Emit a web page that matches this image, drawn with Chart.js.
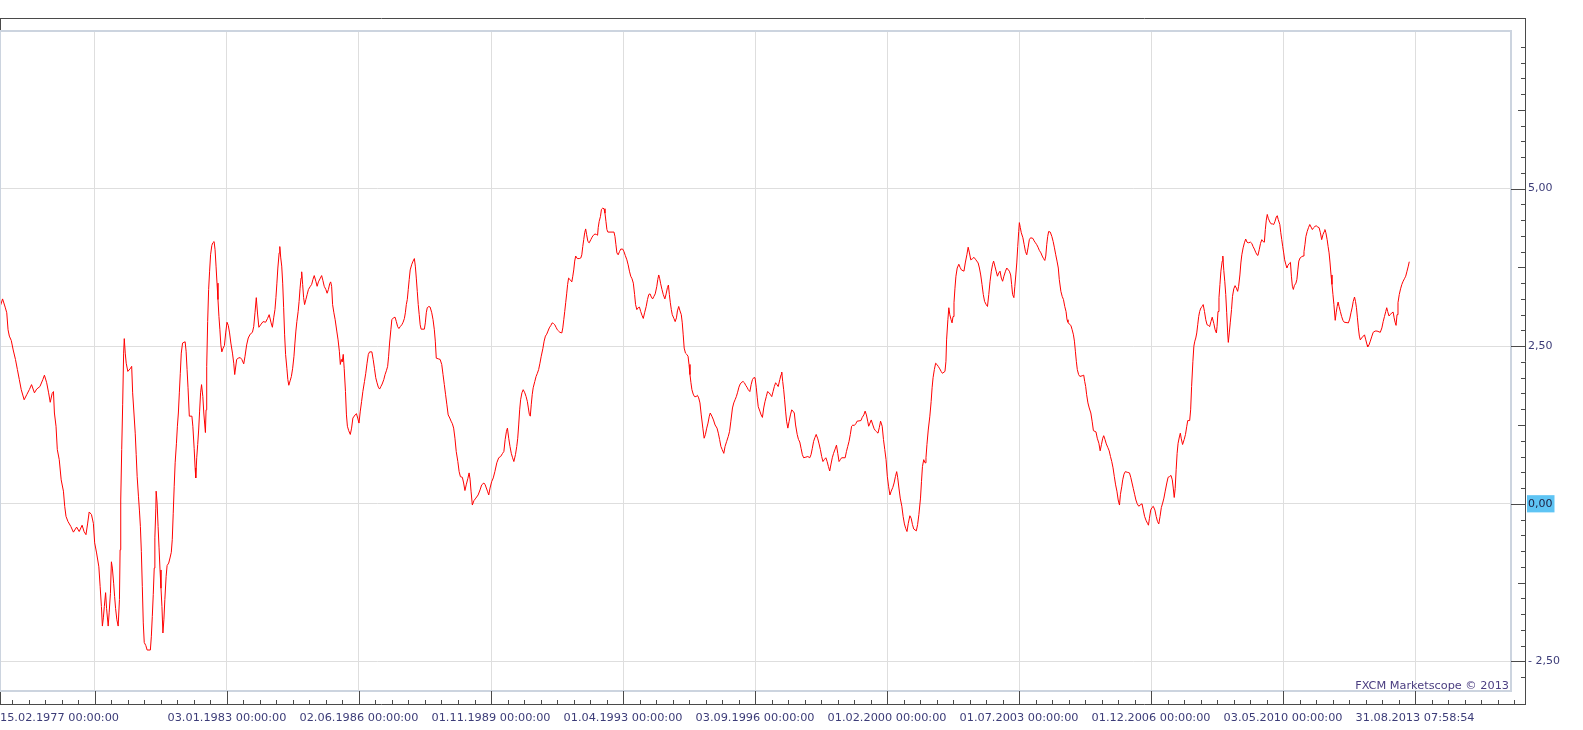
<!DOCTYPE html>
<html>
<head>
<meta charset="utf-8">
<script src="https://cdn.jsdelivr.net/npm/chart.js@4.4.1/dist/chart.umd.min.js"></script>
<style>
  html, body { margin: 0; padding: 0; background: #fff; }
</style>
</head>
<body>
<canvas id="chart" width="1583" height="730"></canvas>
<script>
// x = months since 15.02.1977, y = value
const seriesPoints = [
  [0.0,3.12],[0.8,3.25],[1.6,3.12],[2.1,3.03],[2.5,2.76],[2.9,2.66],[3.5,2.59],[4.1,2.44],[4.8,2.29],[5.4,2.13],[6.0,1.97],[6.6,1.81],[7.5,1.65],[8.3,1.73],[9.1,1.81],[9.8,1.89],[10.7,1.76],[11.4,1.82],[12.4,1.86],[13.3,1.97],[13.8,2.04],[14.5,1.92],[15.1,1.76],[15.6,1.61],[16.2,1.75],[16.6,1.78],[16.9,1.44],[17.4,1.23],[17.8,0.86],[18.4,0.70],[19.0,0.38],[19.7,0.20],[20.1,-0.04],[20.5,-0.20],[21.1,-0.28],[22.0,-0.36],[22.8,-0.45],[23.8,-0.37],[24.6,-0.44],[25.5,-0.34],[26.1,-0.44],[26.7,-0.49],[27.2,-0.32],[27.7,-0.13],[28.4,-0.17],[29.0,-0.31],[29.4,-0.62],[30.0,-0.78],[30.7,-1.00],[31.1,-1.31],[31.5,-1.63],[31.8,-1.94],[32.1,-1.81],[32.4,-1.63],[32.8,-1.41],[33.1,-1.66],[33.6,-1.94],[33.9,-1.73],[34.3,-1.42],[34.6,-0.92],[34.9,-1.02],[35.3,-1.26],[35.6,-1.47],[35.9,-1.66],[36.3,-1.84],[36.7,-1.94],[37.1,-1.52],[37.3,-0.73],[37.5,0.06],[37.8,0.86],[38.1,1.57],[38.4,2.39],[38.6,2.62],[38.9,2.39],[39.2,2.23],[39.7,2.10],[40.4,2.14],[40.9,2.18],[41.2,1.76],[41.6,1.44],[42.0,1.12],[42.3,0.78],[42.6,0.43],[43.0,0.12],[43.3,-0.10],[43.6,-0.36],[43.9,-0.76],[44.2,-1.31],[44.5,-1.89],[44.8,-2.20],[45.3,-2.25],[45.7,-2.32],[46.7,-2.32],[47.0,-2.11],[47.3,-1.79],[47.6,-1.44],[47.9,-1.02],[48.1,-0.54],[48.4,-0.07],[48.5,0.20],[48.8,0.01],[49.1,-0.36],[49.4,-0.70],[49.7,-1.05],[50.0,-1.34],[50.3,-1.63],[50.6,-2.05],[50.9,-1.84],[51.2,-1.52],[51.6,-1.15],[51.9,-0.98],[52.4,-0.94],[52.8,-0.86],[53.2,-0.77],[53.5,-0.57],[53.8,-0.15],[54.1,0.27],[54.4,0.65],[54.8,0.96],[55.1,1.23],[55.4,1.44],[55.7,1.76],[56.0,2.07],[56.3,2.39],[56.7,2.55],[57.5,2.57],[57.8,2.42],[58.1,2.13],[58.4,1.84],[58.8,1.39],[59.6,1.39],[59.9,1.23],[60.3,0.88],[60.6,0.57],[60.8,0.41],[61.1,0.73],[61.4,0.94],[61.7,1.17],[62.0,1.47],[62.3,1.76],[62.6,1.89],[63.0,1.70],[63.3,1.44],[63.6,1.25],[63.8,1.13],[64.0,1.49],[64.2,2.18],[64.5,2.89],[64.8,3.40],[65.1,3.69],[65.4,3.95],[65.8,4.10],[66.1,4.14],[66.5,4.16],[66.8,4.03],[67.1,3.77],[67.4,3.50],[67.7,3.24],[68.0,2.97],[68.3,2.76],[68.6,2.52],[68.9,2.41],[69.3,2.47],[69.7,2.51],[70.1,2.71],[70.5,2.88],[70.9,2.83],[71.3,2.71],[71.7,2.55],[72.2,2.39],[72.6,2.23],[72.9,2.05],[73.5,2.29],
  [74.0,2.31],[74.6,2.32],[75.1,2.29],[75.7,2.22],[76.1,2.34],[76.6,2.52],[77.1,2.63],[77.7,2.69],[78.4,2.72],[78.8,2.81],[79.2,3.03],[79.6,3.27],[80.0,3.01],[80.4,2.80],[81.1,2.85],[81.7,2.89],[82.5,2.88],[83.1,2.94],[83.6,3.00],[84.2,2.87],[84.6,2.80],[85.0,2.95],[85.4,3.08],[85.7,3.27],[86.0,3.50],[86.3,3.74],[86.7,3.98],[86.9,4.08],[87.2,3.90],[87.5,3.77],[87.8,3.50],[88.1,3.11],[88.4,2.68],[88.7,2.37],[89.1,2.15],[89.4,1.97],[89.7,1.88],[90.1,1.95],[90.5,2.02],[90.9,2.15],[91.3,2.34],[91.6,2.55],[91.9,2.74],[92.2,2.89],[92.6,3.05],[92.9,3.21],[93.2,3.42],[93.5,3.58],[93.7,3.68],[94.0,3.48],[94.3,3.27],[94.6,3.16],[95.0,3.24],[95.4,3.32],[95.8,3.40],[96.4,3.45],[96.8,3.48],[97.2,3.56],[97.6,3.62],[98.1,3.53],[98.5,3.45],[98.9,3.52],[99.5,3.58],[99.9,3.62],[100.3,3.54],[100.7,3.45],[101.2,3.40],[101.6,3.34],[102.0,3.40],[102.4,3.49],[102.7,3.52],[103.0,3.45],[103.3,3.16],[103.7,3.03],[104.1,2.92],[104.6,2.74],[105.0,2.60],[105.4,2.42],[105.7,2.21],[106.0,2.29],[106.3,2.25],[106.6,2.37],[106.9,2.15],[107.3,1.78],[107.6,1.41],[107.9,1.23],[108.3,1.16],[108.8,1.10],[109.2,1.20],[109.6,1.36],[110.3,1.41],[110.7,1.43],[111.1,1.36],[111.5,1.28],[111.9,1.47],[112.3,1.62],[112.7,1.78],[113.2,1.94],[113.6,2.07],[114.0,2.23],[114.4,2.37],[114.8,2.41],[115.5,2.41],[115.9,2.29],[116.3,2.15],[116.7,2.00],[117.1,1.92],[117.5,1.85],[117.9,1.82],[118.3,1.86],[118.7,1.90],[119.2,1.97],[119.6,2.05],[120.0,2.11],[120.4,2.18],[120.7,2.34],[121.0,2.55],[121.4,2.76],[121.7,2.92],[122.2,2.95],[122.7,2.96],[123.1,2.89],[123.5,2.81],[123.9,2.78],[124.3,2.81],[124.8,2.84],[125.2,2.88],[125.6,2.94],[125.9,3.03],[126.2,3.16],[126.5,3.24],[126.8,3.40],[127.1,3.56],[127.4,3.71],[127.9,3.80],[128.3,3.85],[128.7,3.89],[129.0,3.77],[129.3,3.58],[129.6,3.37],[129.9,3.16],[130.2,3.00],[130.5,2.84],[130.8,2.77],[131.8,2.77],[132.1,2.87],[132.4,3.03],[132.7,3.11],[133.2,3.13],[133.6,3.12],[134.1,3.03],[134.5,2.92],[134.9,2.76],[135.2,2.58],[135.5,2.31],[136.1,2.30],[136.7,2.29],[137.2,2.21],[137.6,2.05],[138.0,1.89],[138.4,1.73],[138.8,1.57],[139.2,1.41],[139.7,1.36],[140.1,1.31],[140.5,1.27],[140.9,1.20],[141.3,1.04],[141.7,0.83],[142.2,0.67],[142.6,0.51],[143.0,0.43],[143.6,0.42],[144.0,0.33],[144.4,0.21],[144.8,0.30],[145.3,0.40],[145.7,0.49],[146.0,0.39],[146.3,0.20],[146.7,-0.02],
  [147.2,0.05],[147.8,0.09],[148.5,0.14],[149.1,0.22],[149.6,0.30],[150.3,0.33],[150.7,0.30],[151.4,0.20],[151.8,0.14],[152.2,0.25],[152.7,0.35],[153.2,0.41],[153.7,0.51],[154.3,0.65],[154.9,0.73],[155.5,0.75],[156.1,0.80],[156.5,0.83],[156.9,1.02],[157.3,1.15],[157.6,1.20],[158.0,1.04],[158.4,0.91],[158.8,0.80],[159.2,0.73],[159.6,0.67],[160.1,0.78],[160.5,0.91],[160.8,1.04],[161.1,1.25],[161.4,1.49],[161.7,1.65],[162.1,1.76],[162.5,1.81],[163.0,1.76],[163.4,1.70],[163.8,1.62],[164.1,1.52],[164.4,1.42],[164.7,1.39],[165.0,1.57],[165.3,1.73],[165.6,1.84],[166.1,1.94],[166.5,2.02],[166.9,2.07],[167.3,2.13],[167.7,2.23],[168.1,2.34],[168.6,2.46],[169.0,2.58],[169.4,2.66],[169.8,2.69],[170.2,2.74],[170.6,2.79],[171.1,2.83],[171.5,2.87],[171.9,2.86],[172.3,2.84],[172.7,2.80],[173.1,2.76],[173.5,2.74],[173.9,2.72],[174.5,2.71],[174.8,2.79],[175.1,2.92],[175.4,3.05],[175.7,3.19],[176.0,3.33],[176.3,3.48],[176.6,3.58],[177.0,3.56],[177.6,3.52],[177.9,3.61],[178.2,3.71],[178.5,3.85],[178.8,3.93],[179.3,3.89],[179.9,3.89],[180.4,3.90],[180.7,3.95],[181.0,4.08],[181.3,4.19],[181.6,4.30],[181.9,4.36],[182.2,4.27],[182.6,4.16],[183.0,4.14],[183.5,4.19],[183.9,4.23],[184.3,4.26],[184.8,4.28],[185.3,4.27],[185.6,4.26],[185.8,4.38],[186.1,4.48],[186.5,4.56],[186.8,4.67],[187.2,4.69],[187.6,4.68],[187.9,4.61],[188.2,4.48],[188.5,4.35],[188.8,4.31],[190.7,4.31],[191.0,4.24],[191.3,4.11],[191.6,3.98],[192.0,3.95],[192.4,4.00],[192.8,4.04],[193.4,4.04],[193.8,4.00],[194.2,3.94],[194.7,3.87],[195.1,3.79],[195.5,3.69],[195.9,3.61],[196.3,3.57],[196.7,3.50],[197.1,3.32],[197.4,3.16],[197.8,3.08],[198.2,3.11],[198.6,3.12],[199.0,3.05],[199.4,2.99],[199.8,2.94],[200.2,3.03],[200.7,3.13],[201.1,3.24],[201.5,3.32],[201.9,3.33],[202.3,3.28],[202.7,3.25],[203.1,3.29],[203.5,3.33],[204.0,3.45],[204.3,3.56],[204.6,3.63],[204.9,3.57],[205.2,3.49],[205.6,3.40],[206.0,3.32],[206.5,3.25],[206.9,3.33],[207.3,3.43],[207.6,3.47],[207.9,3.32],[208.2,3.19],[208.5,3.08],[208.8,3.00],[209.3,2.94],[209.7,2.89],[210.1,2.95],[210.4,3.06],[210.8,3.13],[211.2,3.06],[211.6,3.00],[211.9,2.87],[212.2,2.68],[212.5,2.47],[212.9,2.39],[213.3,2.37],[213.7,2.34],[214.0,2.21],[214.3,2.05],[214.6,1.92],[214.9,1.81],[215.3,1.74],[215.7,1.70],[216.2,1.70],[216.6,1.72],[217.0,1.68],[217.4,1.60],[217.8,1.41],[218.3,1.20],[218.7,1.04],
  [219.1,1.10],[219.5,1.20],[219.9,1.28],[220.3,1.39],[220.6,1.44],[221.1,1.39],[221.6,1.33],[222.1,1.25],[222.7,1.20],[223.1,1.12],[223.5,1.02],[223.9,0.91],[224.3,0.86],[224.8,0.80],[225.2,0.91],[225.7,0.99],[226.2,1.07],[226.6,1.15],[227.0,1.31],[227.5,1.52],[227.9,1.60],[228.3,1.65],[228.7,1.70],[229.1,1.77],[229.5,1.85],[229.9,1.90],[230.4,1.93],[230.8,1.94],[231.2,1.92],[231.6,1.88],[232.0,1.85],[232.4,1.81],[232.9,1.78],[233.3,1.89],[233.7,1.97],[234.1,2.00],[234.5,2.00],[234.9,1.84],[235.2,1.68],[235.5,1.54],[236.0,1.47],[236.4,1.41],[236.8,1.37],[237.2,1.52],[237.6,1.62],[238.0,1.70],[238.4,1.78],[238.9,1.76],[239.3,1.73],[239.7,1.70],[240.1,1.78],[240.5,1.86],[240.9,1.92],[241.3,1.89],[241.7,1.86],[242.2,1.97],[242.6,2.05],[242.8,2.09],[243.1,1.94],[243.4,1.81],[243.7,1.65],[244.0,1.47],[244.3,1.31],[244.7,1.20],[245.1,1.31],[245.5,1.41],[245.9,1.49],[246.3,1.47],[246.7,1.44],[247.1,1.25],[247.6,1.10],[248.0,1.02],[248.4,0.98],[248.8,0.88],[249.2,0.78],[249.6,0.73],[250.3,0.74],[250.9,0.75],[251.5,0.73],[251.9,0.78],[252.3,0.88],[252.7,0.99],[253.1,1.05],[253.5,1.10],[254.0,1.03],[254.4,0.95],[254.8,0.86],[255.2,0.75],[255.6,0.67],[256.0,0.70],[256.5,0.73],[256.9,0.67],[257.3,0.59],[257.7,0.52],[258.1,0.63],[258.5,0.73],[258.9,0.80],[259.4,0.87],[259.8,0.93],[260.2,0.80],[260.6,0.67],[261.0,0.70],[261.4,0.73],[262.5,0.73],[262.9,0.83],[263.3,0.91],[263.7,0.99],[264.1,1.10],[264.5,1.23],[264.9,1.25],[265.3,1.24],[265.8,1.27],[266.2,1.31],[267.4,1.32],[267.8,1.37],[268.3,1.41],[268.7,1.47],[269.1,1.41],[269.5,1.31],[269.8,1.23],[270.2,1.28],[270.6,1.33],[271.1,1.25],[271.5,1.19],[271.9,1.16],[272.3,1.14],[272.7,1.12],[273.1,1.21],[273.5,1.31],[274.0,1.23],[274.4,1.02],[274.8,0.86],[275.2,0.70],[275.6,0.43],[276.0,0.27],[276.4,0.14],[276.8,0.20],[277.3,0.26],[277.7,0.33],[278.1,0.43],[278.5,0.51],[278.8,0.42],[279.2,0.25],[279.6,0.09],[280.1,-0.04],[280.5,-0.20],[280.9,-0.32],[281.3,-0.39],[281.7,-0.44],[282.1,-0.31],[282.6,-0.19],[283.0,-0.23],[283.4,-0.33],[283.8,-0.40],[284.6,-0.43],[285.0,-0.33],[285.4,-0.17],[285.9,0.09],[286.2,0.35],[286.5,0.59],[286.9,0.70],[287.3,0.65],[287.6,0.73],[287.9,0.94],[288.3,1.17],[288.8,1.39],[289.2,1.62],[289.5,1.84],[289.8,2.00],[290.2,2.13],[290.6,2.23],[291.0,2.21],[291.4,2.18],[291.9,2.14],[292.3,2.10],[292.7,2.07],
  [293.5,2.10],[293.8,2.26],[294.0,2.60],[294.4,2.92],[294.7,3.11],[295.0,3.00],[295.4,2.92],[295.7,2.87],[296.0,2.97],[296.3,3.19],[296.6,3.42],[296.9,3.61],[297.3,3.74],[297.8,3.80],[298.2,3.75],[298.6,3.71],[299.4,3.69],[299.8,3.82],[300.3,3.95],[300.7,4.07],[301.1,3.98],[301.5,3.87],[302.1,3.89],[302.5,3.91],[303.1,3.87],[303.8,3.82],[304.2,3.74],[304.6,3.63],[305.0,3.48],[305.4,3.32],[305.8,3.21],[306.3,3.16],[306.7,3.13],[307.1,3.32],[307.5,3.53],[307.9,3.69],[308.3,3.80],[308.6,3.85],[309.0,3.77],[309.4,3.69],[309.8,3.61],[310.2,3.66],[310.6,3.69],[311.0,3.58],[311.4,3.53],[311.8,3.61],[312.3,3.69],[312.7,3.74],[313.5,3.69],[313.9,3.63],[314.2,3.48],[314.5,3.32],[314.9,3.27],[315.2,3.45],[315.5,3.63],[315.8,3.82],[316.1,4.08],[316.4,4.32],[316.6,4.46],[316.9,4.38],[317.2,4.30],[317.7,4.22],[318.1,4.11],[318.5,4.00],[318.9,3.95],[319.3,4.06],[319.7,4.19],[320.1,4.22],[320.8,4.21],[321.2,4.17],[321.6,4.14],[322.0,4.11],[322.4,4.07],[322.8,4.02],[323.3,3.98],[323.7,3.93],[324.1,3.89],[324.5,3.86],[324.8,3.93],[325.1,4.11],[325.4,4.24],[325.7,4.32],[326.2,4.31],[326.7,4.24],[327.1,4.16],[327.5,4.06],[327.9,3.95],[328.3,3.85],[328.7,3.74],[329.0,3.56],[329.5,3.37],[329.9,3.29],[330.3,3.24],[330.7,3.13],[331.1,3.05],[331.4,2.92],[331.7,2.88],[332.1,2.85],[332.6,2.83],[333.0,2.76],[333.4,2.68],[333.7,2.58],[334.0,2.42],[334.3,2.26],[334.6,2.13],[335.0,2.05],[335.4,2.02],[336.1,2.03],[336.6,2.04],[336.9,1.94],[337.2,1.86],[337.5,1.73],[337.9,1.60],[338.3,1.52],[338.8,1.44],[339.2,1.31],[339.6,1.16],[340.4,1.14],[340.8,1.04],[341.3,0.96],[341.7,0.84],[342.1,0.94],[342.5,1.04],[342.8,1.08],[343.2,1.02],[343.6,0.95],[344.1,0.89],[344.5,0.84],[344.9,0.75],[345.3,0.67],[345.7,0.57],[346.1,0.43],[346.5,0.30],[346.9,0.20],[347.3,0.06],[347.7,-0.02],[348.0,0.15],[348.4,0.27],[348.7,0.38],[349.1,0.47],[349.5,0.51],[350.1,0.50],[350.8,0.49],[351.2,0.42],[351.6,0.33],[352.0,0.24],[352.4,0.15],[352.8,0.06],[353.2,0.00],[353.7,-0.04],[354.1,-0.02],[354.7,0.00],[355.1,-0.10],[355.5,-0.20],[356.0,-0.27],[356.4,-0.31],[356.7,-0.34],[357.0,-0.23],[357.4,-0.10],[357.8,-0.06],[358.2,-0.04],[358.7,-0.10],[359.1,-0.20],[359.5,-0.28],[359.9,-0.32],[360.3,-0.20],[360.7,-0.06],[361.1,0.01],[361.5,0.09],[361.9,0.20],[362.4,0.33],[362.8,0.42],[363.2,0.43],[363.7,0.45],[364.1,0.38],[364.4,0.25],[364.7,0.10],[365.0,0.24],
  [365.3,0.54],[365.6,0.80],[365.9,0.96],[366.3,1.06],[366.6,1.12],[366.9,1.03],[367.3,0.94],[367.8,1.02],[368.2,1.10],[368.6,1.23],[368.9,1.32],[369.5,1.32],[369.8,1.49],[370.1,1.86],[370.5,2.26],[370.8,2.50],[371.1,2.58],[371.4,2.63],[371.7,2.71],[372.0,2.84],[372.3,2.97],[372.6,3.05],[373.0,3.11],[373.4,3.13],[373.7,3.16],[374.1,3.05],[374.5,2.92],[374.9,2.84],[375.3,2.83],[375.7,2.81],[376.1,2.89],[376.5,2.96],[377.0,2.86],[377.4,2.76],[377.8,2.71],[378.0,2.81],[378.3,3.05],[378.6,3.27],[378.9,3.48],[379.2,3.69],[379.6,3.85],[379.8,3.93],[380.1,3.70],[380.4,3.53],[380.7,3.32],[381.0,3.03],[381.3,2.71],[381.5,2.56],[381.8,2.71],[382.1,2.87],[382.5,3.08],[382.8,3.29],[383.2,3.41],[383.6,3.46],[384.0,3.42],[384.4,3.37],[384.7,3.45],[385.1,3.63],[385.4,3.82],[385.7,3.95],[386.1,4.06],[386.5,4.14],[386.9,4.20],[387.3,4.15],[387.7,4.14],[388.4,4.15],[388.8,4.13],[389.2,4.08],[389.6,4.04],[390.0,3.99],[390.4,3.95],[390.7,3.94],[391.1,4.03],[391.5,4.13],[391.9,4.19],[392.3,4.16],[392.7,4.15],[393.0,4.35],[393.3,4.50],[393.6,4.59],[393.9,4.53],[394.4,4.47],[394.8,4.44],[395.2,4.44],[395.6,4.43],[396.0,4.48],[396.4,4.55],[396.7,4.57],[397.0,4.51],[397.5,4.43],[397.8,4.30],[398.1,4.19],[398.4,4.08],[398.7,3.98],[399.0,3.87],[399.4,3.79],[399.7,3.74],[400.0,3.78],[400.4,3.81],[400.8,3.83],[401.1,3.61],[401.4,3.45],[401.7,3.40],[402.0,3.46],[402.5,3.50],[402.8,3.56],[403.1,3.71],[403.4,3.85],[403.8,3.90],[404.3,3.92],[404.7,3.93],[405.0,4.00],[405.3,4.11],[405.6,4.24],[406.0,4.32],[406.4,4.38],[406.8,4.43],[407.2,4.39],[407.6,4.35],[408.0,4.38],[408.4,4.40],[408.8,4.41],[409.3,4.39],[409.7,4.38],[410.1,4.30],[410.5,4.19],[410.9,4.27],[411.3,4.32],[411.5,4.35],[411.8,4.30],[412.2,4.19],[412.5,4.08],[412.8,3.98],[413.1,3.82],[413.4,3.63],[413.7,3.48],[414.0,3.32],[414.3,3.16],[414.7,2.91],[415.0,3.03],[415.3,3.13],[415.6,3.20],[415.9,3.13],[416.3,3.05],[416.7,2.97],[417.1,2.91],[417.5,2.88],[418.8,2.87],[419.2,2.93],[419.6,3.03],[420.0,3.12],[420.3,3.21],[420.7,3.28],[421.0,3.21],[421.3,3.11],[421.6,2.95],[421.9,2.79],[422.2,2.66],[422.5,2.60],[422.9,2.63],[423.8,2.68],[424.2,2.60],[424.6,2.52],[424.8,2.49],[425.2,2.52],[425.6,2.58],[426.1,2.66],[426.5,2.72],[427.1,2.74],[427.7,2.74],[428.7,2.72],[429.2,2.79],[429.6,2.89],[430.0,2.97],[430.4,3.05],[430.7,3.11],[431.0,3.05],[431.4,2.98],[431.8,3.00],[432.3,3.03],[432.7,3.04],[433.0,2.95],[433.3,2.88],[433.6,2.83],[433.9,3.00],[434.2,3.19],[434.6,3.32],[435.0,3.41],[435.4,3.48],[435.8,3.53],[436.2,3.57],[436.6,3.61],[437.0,3.69],[437.4,3.77],[437.7,3.84]
];

const startLabel = "15.02.1977 00:00:00";
const dateTickMonths = [29.5, 70.5, 111.5, 152.5, 193.5, 234.5, 275.5, 316.5, 357.5, 398.5, 439.5];
const dateTickLabels = ["", "03.01.1983 00:00:00", "02.06.1986 00:00:00", "01.11.1989 00:00:00",
  "01.04.1993 00:00:00", "03.09.1996 00:00:00", "01.02.2000 00:00:00", "01.07.2003 00:00:00",
  "01.12.2006 00:00:00", "03.05.2010 00:00:00", "31.08.2013 07:58:54"];
const valueTicks = [-2.5, 0, 2.5, 5];

const xMax = 469.3;
const yMin = -2.97;
const yMax = 7.5;
const minorStep = 41 / 8;

Chart.defaults.font.family = '"DejaVu Sans", Verdana, sans-serif';

const formatValue = v => {
  const s = Math.abs(v).toFixed(2).replace(".", ",");
  return v < 0 ? "- " + s : s;
};

const xLabelFor = v => {
  if (v === 0) return startLabel;
  const i = dateTickMonths.indexOf(v);
  return i >= 0 ? dateTickLabels[i] : "";
};

// frame, minor ticks and watermark
const framePlugin = {
  id: "frame",
  afterDraw(chart) {
    const { ctx, chartArea: a, scales: { x, y } } = chart;
    const frameTop = a.top - 13, frameRight = a.right + 14, frameBottom = a.bottom + 13;
    ctx.save();

    // inner plot border
    ctx.fillStyle = "#ccd4df";
    ctx.fillRect(a.left, a.top - 1, a.right - a.left + 1, 2);
    ctx.fillRect(a.right - 1, a.top - 1, 2, a.bottom - a.top + 2);
    ctx.fillRect(a.left, a.bottom - 1, a.right - a.left + 1, 2);
    ctx.fillRect(a.left, a.top - 1, 1, a.bottom - a.top + 2);

    // outer frame
    ctx.strokeStyle = "#4a4a4a";
    ctx.lineWidth = 1;
    ctx.beginPath();
    ctx.moveTo(0, frameTop + 0.5); ctx.lineTo(frameRight + 1, frameTop + 0.5);
    ctx.moveTo(frameRight + 0.5, frameTop); ctx.lineTo(frameRight + 0.5, frameBottom + 1);
    ctx.moveTo(0, frameBottom + 0.5); ctx.lineTo(frameRight + 1, frameBottom + 0.5);
    ctx.moveTo(0.5, frameTop); ctx.lineTo(0.5, a.top - 1);
    ctx.moveTo(0.5, a.bottom + 1); ctx.lineTo(0.5, frameBottom);
    ctx.stroke();

    // value ticks on the right strip
    ctx.beginPath();
    for (let k = -11; k <= 29; k++) {
      const py = Math.round(y.getPixelForValue(k * 0.25)) + 0.5;
      const len = k % 10 === 0 ? 14 : (k % 5 === 0 ? 7 : 4);
      ctx.moveTo(frameRight - len, py);
      ctx.lineTo(frameRight, py);
    }
    // time ticks on the bottom strip
    for (let j = -5; j <= 90; j++) {
      const px = Math.round(x.getPixelForValue(dateTickMonths[0] + j * minorStep)) + 0.5;
      if (px > frameRight) break;
      const len = j % 8 === 0 ? 13 : 4;
      ctx.moveTo(px, frameBottom);
      ctx.lineTo(px, frameBottom - len);
    }
    ctx.stroke();

    // watermark
    ctx.fillStyle = "#4a3d80";
    ctx.font = '11.3px "DejaVu Sans", Verdana, sans-serif';
    ctx.textAlign = "right";
    ctx.textBaseline = "alphabetic";
    ctx.fillText("FXCM Marketscope \u00a9 2013", a.right - 2, a.bottom - 2);
    ctx.restore();
  }
};

new Chart(document.getElementById("chart"), {
  type: "line",
  data: {
    datasets: [{
      data: seriesPoints.map(p => ({ x: p[0], y: p[1] })),
      borderColor: "#ff0000",
      borderWidth: 1,
      pointRadius: 0,
      tension: 0,
      fill: false
    }]
  },
  options: {
    responsive: false,
    animation: false,
    events: [],
    devicePixelRatio: 1,
    layout: { padding: { top: 31, left: 0, right: 0, bottom: 0 } },
    plugins: { legend: { display: false }, tooltip: { enabled: false } },
    scales: {
      x: {
        type: "linear",
        position: "bottom",
        min: 0,
        max: xMax,
        afterBuildTicks: s => {
          s.ticks = [0, ...dateTickMonths, xMax].map(v => ({ value: v }));
        },
        afterFit: s => { s.height = 39; },
        grid: {
          drawTicks: true,
          tickLength: 20,
          tickColor: "rgba(0,0,0,0)",
          color: c => (c.tick && (c.tick.value === 0 || c.tick.value === xMax)) ? "rgba(0,0,0,0)" : "#dedede"
        },
        border: { display: false },
        ticks: {
          autoSkip: false,
          maxRotation: 0,
          minRotation: 0,
          align: "inner",
          padding: 0,
          color: "#3c3c78",
          font: { size: 11.3 },
          callback: v => xLabelFor(v)
        }
      },
      y: {
        type: "linear",
        position: "right",
        min: yMin,
        max: yMax,
        afterBuildTicks: s => {
          s.ticks = valueTicks.map(v => ({ value: v }));
        },
        afterFit: s => { s.width = 72; },
        grid: { drawTicks: true, tickLength: 17, tickColor: "rgba(0,0,0,0)", color: "#dedede" },
        border: { display: false },
        ticks: {
          padding: 0,
          font: { size: 11 },
          color: c => c.tick && c.tick.value === 0 ? "#1e1e40" : "#3c3c78",
          showLabelBackdrop: c => !!(c.tick && c.tick.value === 0),
          backdropColor: "#5ec4f4",
          backdropPadding: { top: 2, bottom: 2, left: 1, right: 2 },
          callback: v => formatValue(v)
        }
      }
    }
  },
  plugins: [framePlugin]
});
</script>
</body>
</html>
